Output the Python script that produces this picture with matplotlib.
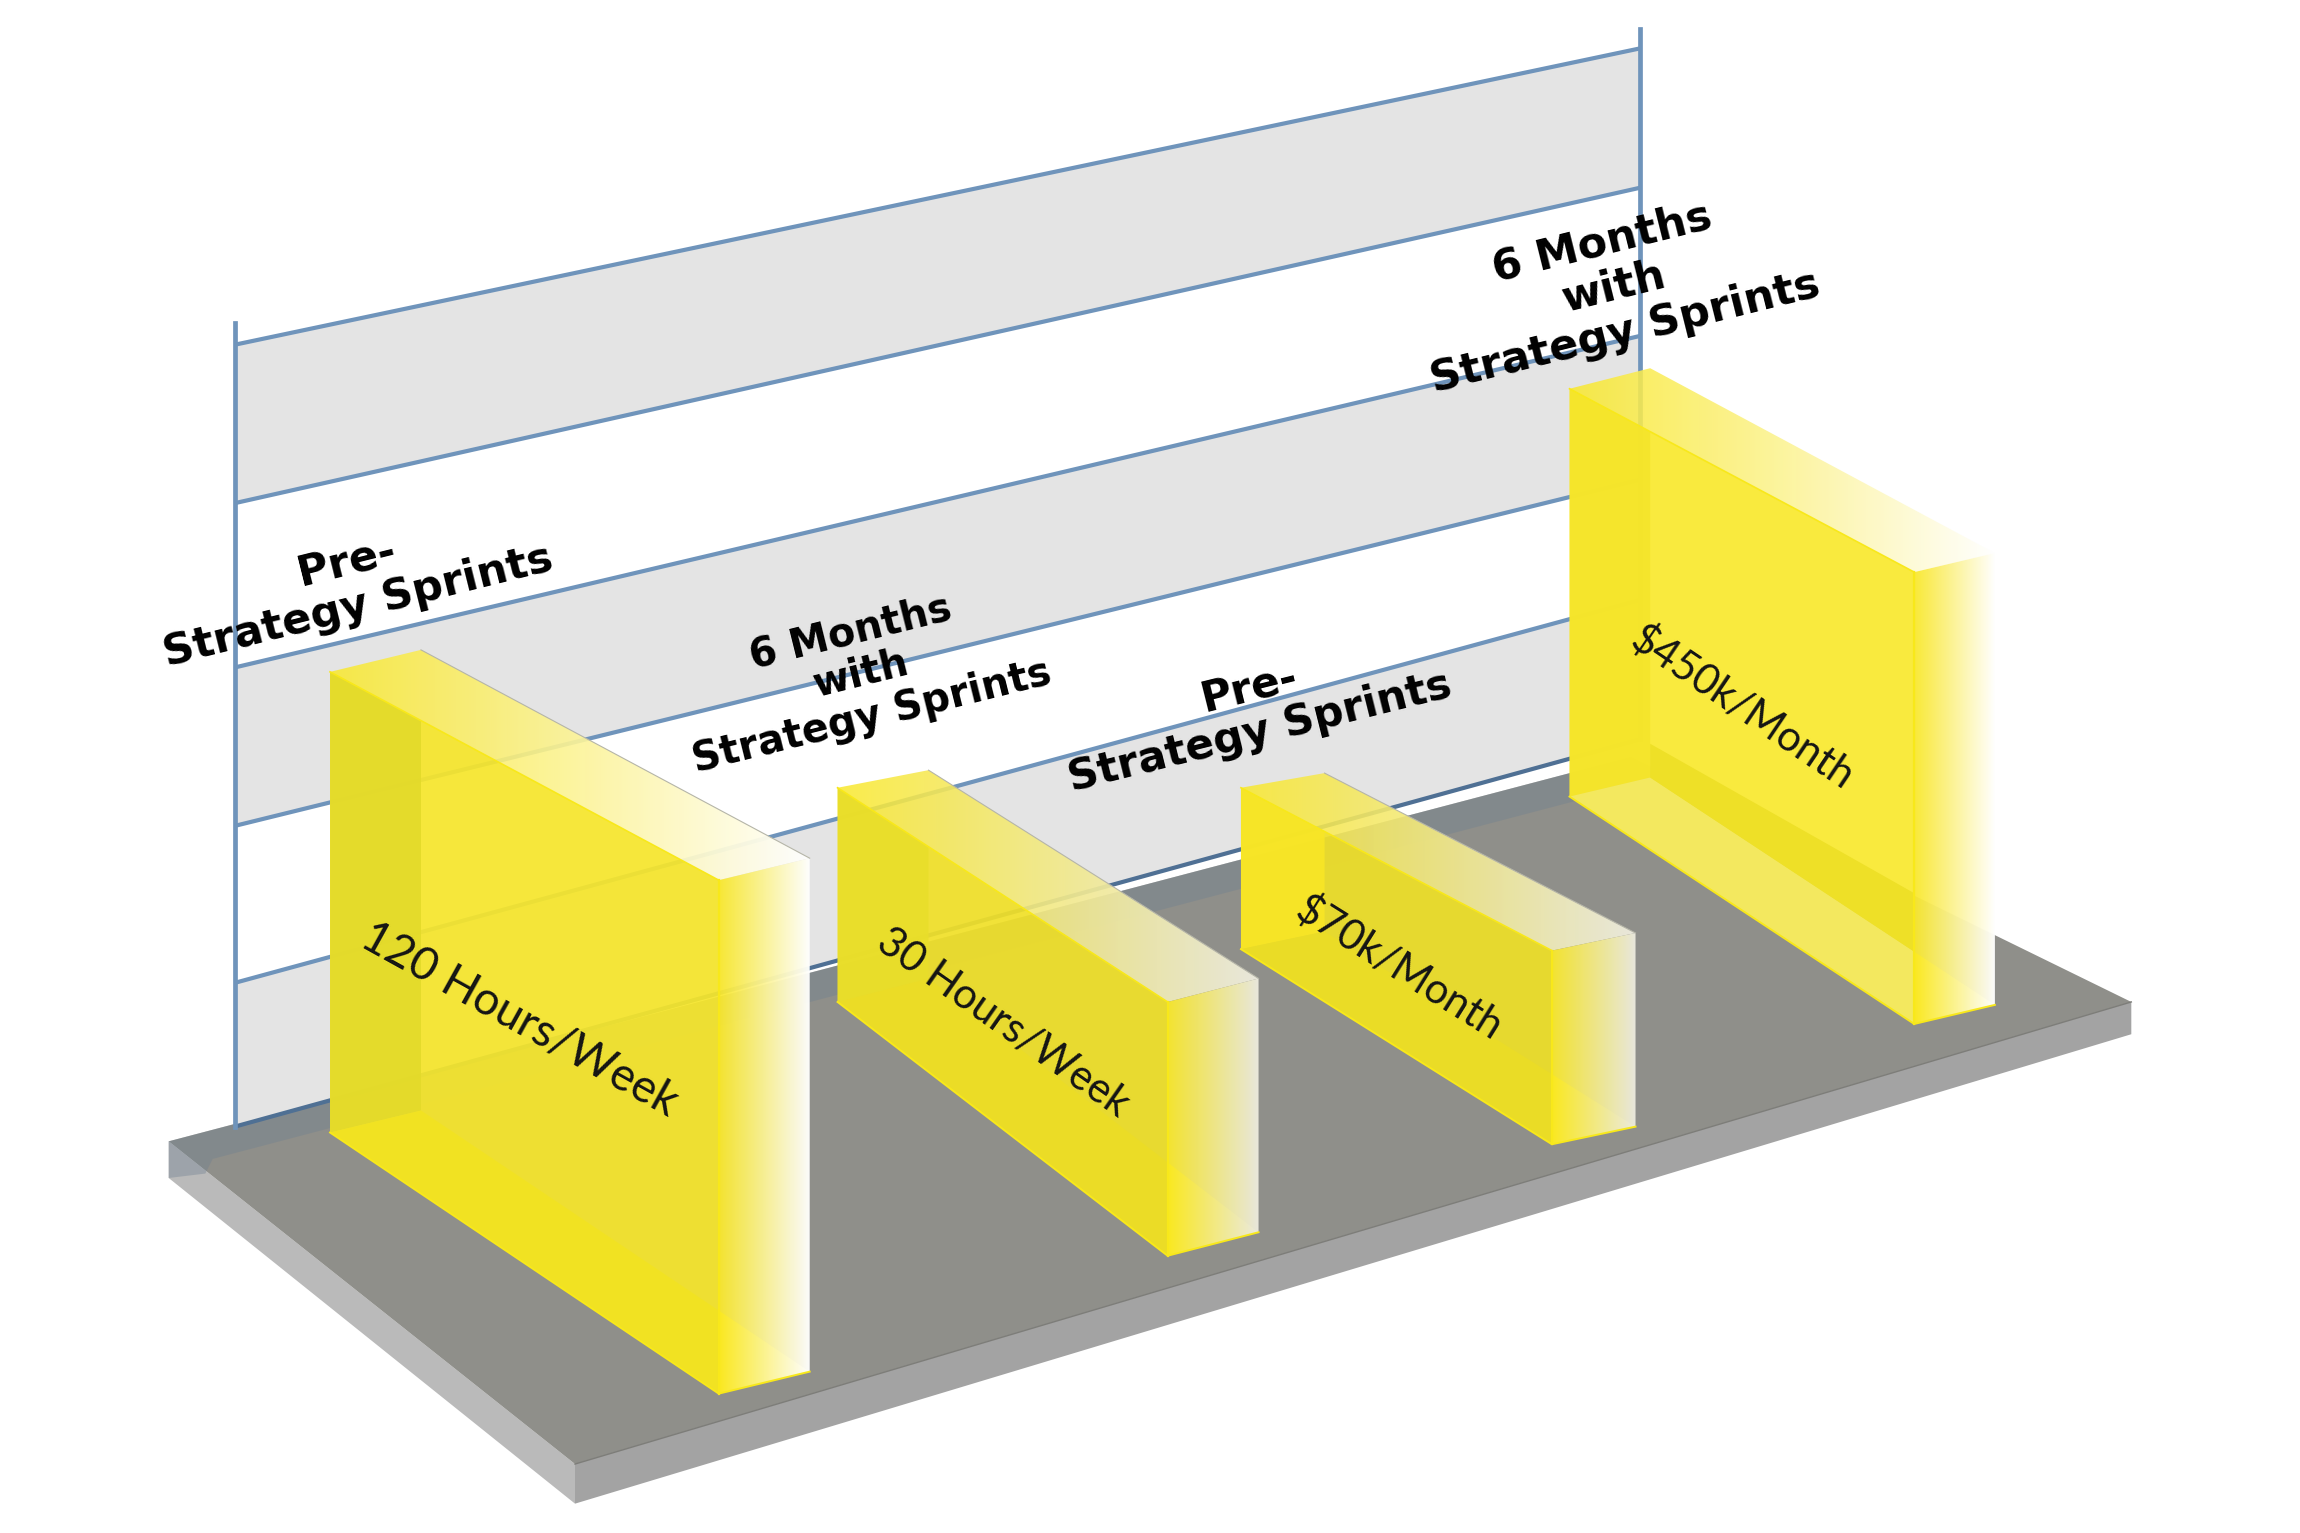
import numpy as np
import matplotlib
matplotlib.use('Agg')
import matplotlib.pyplot as plt
from matplotlib.colors import to_rgb
from matplotlib.patches import Polygon

# bars, left to right
headers = ['Pre-\nStrategy Sprints', '6 Months\nwith\nStrategy Sprints',
           'Pre-\nStrategy Sprints', '6 Months\nwith\nStrategy Sprints']
labels = ['120 Hours/Week', '30 Hours/Week', '$70k/Month', '$450k/Month']
rear_height = [314, 146, 110, 278]
front_height = [350, 173, 132, 308]

# layout of the drawing, in the picture's 1568 wide space
bar_base = [(225, 772), (571, 683), (846, 647), (1070, 543)]
bar_run = [(265, 178), (225, 173), (212, 133), (235, 155)]
bar_depth = [(62, -15), (62, -16), (57, -12), (55, -13)]
top_rise = [15, 12, 10, 14]
end_color = ['#ffffff', '#ecebdf', '#ecebdf', '#ffffff']
body_color = ['#f6e62c', '#f0e029', '#eedf28', '#f9e92f']
strip_color = ['#e3da2a', '#e9de2a', '#f8e626', '#f5e52a']
floor_color = ['#f3e41e', '#ecdd24', '#ecdd24', '#f4ea6a']
label_pos = [(354, 695), (684, 697), (954, 660), (1188, 482)]
label_rot = [-29, -35, -32, -34]
label_size = [33, 30, 30, 30]
header_pos = [(240, 398), (587, 460), (855, 484), (1100, 196)]
header_size = [31, 28.5, 30.5, 31]

wall_left = [235, 343, 455, 563, 670, 768]
wall_right = [33, 128, 229, 327, 409, 504]
wall_x = (160, 1118)

YELLOW = '#f9e82c'
BLUE = '#6f94bb'


def grad_poly(ax, pts, c0, c1, a0, a1, z):
    pts = np.array(pts, dtype=float)
    t = np.linspace(0, 1, 256)
    img = np.ones((1, 256, 4))
    for i in range(3):
        img[0, :, i] = to_rgb(c0)[i] + (to_rgb(c1)[i] - to_rgb(c0)[i]) * t
    img[0, :, 3] = a0 + (a1 - a0) * t
    im = ax.imshow(img, extent=(pts[:, 0].min(), pts[:, 0].max(), pts[:, 1].min(), pts[:, 1].max()),
                   aspect='auto', zorder=z, interpolation='bilinear')
    im.set_clip_path(Polygon(pts, transform=ax.transData))


def poly(ax, pts, color, alpha=1.0, z=5, clip=None):
    p = Polygon(pts, closed=True, facecolor=color, edgecolor='none', alpha=alpha, zorder=z)
    ax.add_patch(p)
    if clip is not None:
        p.set_clip_path(Polygon(clip, transform=ax.transData))


def draw_bar(ax, i):
    bl = np.array(bar_base[i], dtype=float)
    run = np.array(bar_run[i], dtype=float)
    dep = np.array(bar_depth[i], dtype=float)
    up_r = np.array((0, -rear_height[i]), dtype=float)
    up_f = np.array((0, -front_height[i]), dtype=float)
    fb = bl + run
    rb = fb + dep
    back = bl + dep
    tl = bl + up_r
    tf = fb + up_f
    tb = tl + (dep[0], -top_rise[i])
    tr = rb + up_f
    front = [tl, tf, fb, bl]

    # front face, see through so the wall lines stay faintly visible
    poly(ax, front, body_color[i], 0.93, 6)
    # back end seen through the block
    poly(ax, [tl, tb, back + (0, 40), back, bl], strip_color[i], 0.9, 7, clip=front)
    # floor of the block seen through the front face
    poly(ax, [bl, back, back + run, fb], floor_color[i], 0.8, 7, clip=front)
    if i == 3:
        poly(ax, [back + (0, -23), back + run + (0, -45), back + run, back], '#eee027', 1.0, 8, clip=front)

    # top and right faces fade out
    grad_poly(ax, [tl, tb, tr, tf], YELLOW, end_color[i], 0.85, 0.97, 8)
    grad_poly(ax, [tf, tr, rb, fb], YELLOW, end_color[i], 0.95, 0.97, 8)
    mid = np.array((fb[0], rb[1] - run[1] / run[0] * dep[0]))
    grad_poly(ax, [mid, rb, fb], '#fbe91f', end_color[i], 0.9, 0.8, 9)

    ax.plot([tf[0], fb[0]], [tf[1], fb[1]], color='#f8e81a', lw=1.6, zorder=10)
    ax.plot([bl[0], fb[0], rb[0]], [bl[1], fb[1], rb[1]], color='#f8e81a', lw=1.4, zorder=10)
    ax.plot([tl[0], tf[0]], [tl[1], tf[1]], color='#f8e81a', lw=1.2, zorder=10)
    if i != 3:
        ax.plot([tb[0], tr[0]], [tb[1], tr[1]], color='#b5b5a8', lw=0.8, zorder=10)


fig = plt.figure(figsize=(23, 15.33), dpi=100)
ax = fig.add_axes([0, 0, 1, 1])

# floor slab
L, F, R, B = (115, 778), (392, 998), (1453, 683), (1112, 516)
slab = 25
poly(ax, [L, F, (F[0], F[1] + slab + 2), (L[0], L[1] + slab)], '#bababa', z=1)
poly(ax, [F, R, (R[0], R[1] + slab - 3), (F[0], F[1] + slab + 2)], '#a3a3a3', z=1)
poly(ax, [L, F, R, B], '#8f8f8a', z=1)
ax.plot([F[0], R[0]], [F[1], R[1]], color='#7d7d79', lw=1, zorder=2)
# wall shadow on the floor
poly(ax, [L, B, (1135, 530), (145, 790), (140, 800), (115, 803)], '#6f8090', 0.38, 2)

# wall
for j in range(0, 5, 2):
    poly(ax, [(wall_x[0], wall_left[j]), (wall_x[1], wall_right[j]),
              (wall_x[1], wall_right[j + 1]), (wall_x[0], wall_left[j + 1])], '#e4e4e4', z=3)
for j in range(6):
    ax.plot(wall_x, [wall_left[j], wall_right[j]], color='#4f7094' if j == 5 else BLUE,
            lw=3.0, zorder=4, solid_capstyle='butt')
ax.plot([wall_x[0], wall_x[0]], [220, wall_left[-1]], color=BLUE, lw=3.4, zorder=4)
ax.plot([wall_x[1], wall_x[1]], [20, wall_right[-1]], color=BLUE, lw=3.4, zorder=4)

for i in range(len(labels)):
    draw_bar(ax, i)
    ax.text(label_pos[i][0], label_pos[i][1], labels[i], rotation=label_rot[i], rotation_mode='anchor',
            ha='center', va='center', fontsize=label_size[i], color='#141414',
            family=['Lato', 'DejaVu Sans'], zorder=20)
    ax.text(header_pos[i][0], header_pos[i][1], headers[i], rotation=14, rotation_mode='anchor',
            ha='center', va='center', fontsize=header_size[i], fontweight='bold', color='black',
            family='DejaVu Sans', linespacing=1.12, zorder=21)

ax.set_xlim(0, 1568)
ax.set_ylim(1045, 0)
ax.axis('off')
fig.savefig('out.png', dpi=100)
